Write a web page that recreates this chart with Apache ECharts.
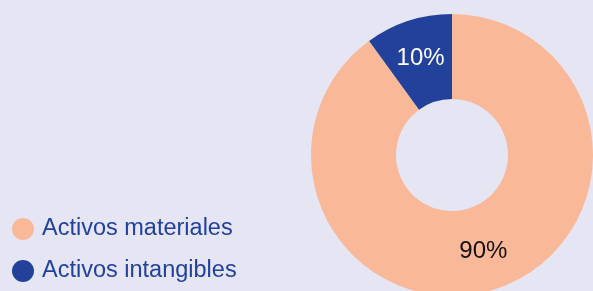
<!DOCTYPE html>
<html>
<head>
<meta charset="utf-8">
<script src="https://cdn.jsdelivr.net/npm/echarts@6/dist/echarts.min.js"></script>
<style>
  html, body { margin: 0; padding: 0; background: #e5e5f4; }
  #chart { width: 593px; height: 291px; }
</style>
</head>
<body>
<div id="chart"></div>
<script>
var categories = ['Activos materiales', 'Activos intangibles']
var values = [90, 10]
var colors = ['#f9b898', '#21419a']
var labelColors = ['#111111', '#ffffff']

var myChart = echarts.init(document.getElementById('chart'))

var pieData = categories.map(function (name, i) {
  return {
    name: name,
    value: values[i],
    itemStyle: { color: colors[i] },
    label: { color: labelColors[i] }
  }
})

myChart.setOption({
  animation: false,
  backgroundColor: '#e5e5f4',
  legend: {
    orient: 'vertical',
    left: 12,
    top: 217,
    height: 100,
    padding: 0,
    icon: 'circle',
    itemWidth: 28,
    itemHeight: 22,
    itemGap: 18,
    selectedMode: false,
    data: categories,
    textStyle: {
      color: '#21419a',
      fontSize: 23.5,
      lineHeight: 22,
      fontFamily: 'Liberation Sans'
    }
  },
  series: [
    {
      type: 'pie',
      center: [452, 155],
      radius: [56, 141],
      startAngle: 90,
      clockwise: true,
      silent: true,
      label: {
        position: 'inside',
        formatter: '{d}%',
        fontSize: 24,
        fontFamily: 'Liberation Sans'
      },
      labelLine: { show: false },
      data: pieData
    }
  ]
})
</script>
</body>
</html>
